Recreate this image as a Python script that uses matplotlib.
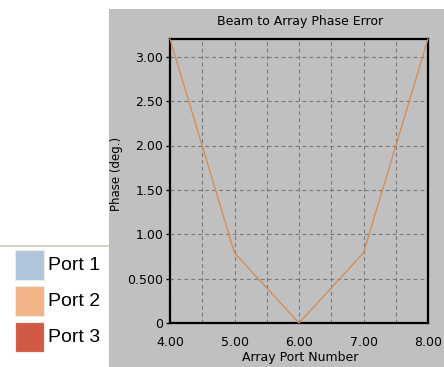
import matplotlib
matplotlib.use("Agg")
import matplotlib.pyplot as plt
from matplotlib.patches import Rectangle
from matplotlib.lines import Line2D

# Data
port_numbers = [4.0, 5.0, 6.0, 7.0, 8.0]
phase_error = [3.20, 0.79, 0.0, 0.79, 3.20]
x_ticks = [4.0, 4.5, 5.0, 5.5, 6.0, 6.5, 7.0, 7.5, 8.0]
x_tick_labels = ["4.00", "", "5.00", "", "6.00", "", "7.00", "", "8.00"]
y_ticks = [0.0, 0.5, 1.0, 1.5, 2.0, 2.5, 3.0]
y_tick_labels = ["0", "0.500", "1.00", "1.50", "2.00", "2.50", "3.00"]
legend_labels = ["Port 1", "Port 2", "Port 3"]
legend_colors = ["#b0c4de", "#f0b486", "#d05a45"]

W, H = 444, 367
plt.rcParams["lines.scale_dashes"] = False
fig = plt.figure(figsize=(W / 100, H / 100), dpi=100, facecolor="white")

def fx(px):
    return px / W

def fy(py):
    return 1 - py / H

# gray panel
fig.patches.append(Rectangle((fx(109), 0), 1 - fx(109), fy(9), transform=fig.transFigure,
                             facecolor="#c0c0c0", edgecolor="none", zorder=-5))
# legend separator line
fig.lines.append(Line2D([0, fx(108)], [fy(246), fy(246)], transform=fig.transFigure,
                        color="#d6d2ca", linewidth=1.5))

ax = fig.add_axes([fx(170), fy(323), fx(428) - fx(170), fy(39) - fy(323)])
ax.set_zorder(5)
ax.set_facecolor("#c0c0c0")
ax.plot(port_numbers, phase_error, color="#d48a52", linewidth=0.9, zorder=3, clip_on=False)
ax.set_xlim(4, 8)
ax.set_ylim(0, 3.2)
ax.set_xticks(x_ticks)
ax.set_xticklabels(x_tick_labels)
ax.set_yticks(y_ticks)
ax.set_yticklabels(y_tick_labels)
ax.tick_params(axis="x", length=0, pad=9, labelsize=9, labelcolor="black")
ax.tick_params(axis="y", length=3, width=1, direction="out", pad=2, labelsize=9, labelcolor="black")
for s in ax.spines.values():
    s.set_linewidth(1.6)
    s.set_color("black")
ax.grid(True, color="#787878", linewidth=0.8, linestyle=(0, (2.8, 2.2)))
ax.set_axisbelow(True)

fig.text(fx(300), fy(22), "Beam to Array Phase Error", ha="center", va="center", fontsize=9)
fig.text(fx(300), fy(357), "Array Port Number", ha="center", va="center", fontsize=9)
fig.text(fx(116), fy(174), "Phase (deg.)", ha="center", va="center", fontsize=8.5, rotation=90)

# legend
sw_tops = [250, 286, 322]
for lab, col, top in zip(legend_labels, legend_colors, sw_tops):
    fig.patches.append(Rectangle((fx(15), fy(top + 30)), fx(44) - fx(15), fy(top) - fy(top + 30),
                                 transform=fig.transFigure, facecolor=col,
                                 edgecolor="#f0ece8", linewidth=0.8))
    fig.text(fx(48), fy(top + 16), lab, ha="left", va="center", fontsize=14,
             family="Liberation Sans")

fig.savefig("out.png", dpi=100, facecolor="white")
